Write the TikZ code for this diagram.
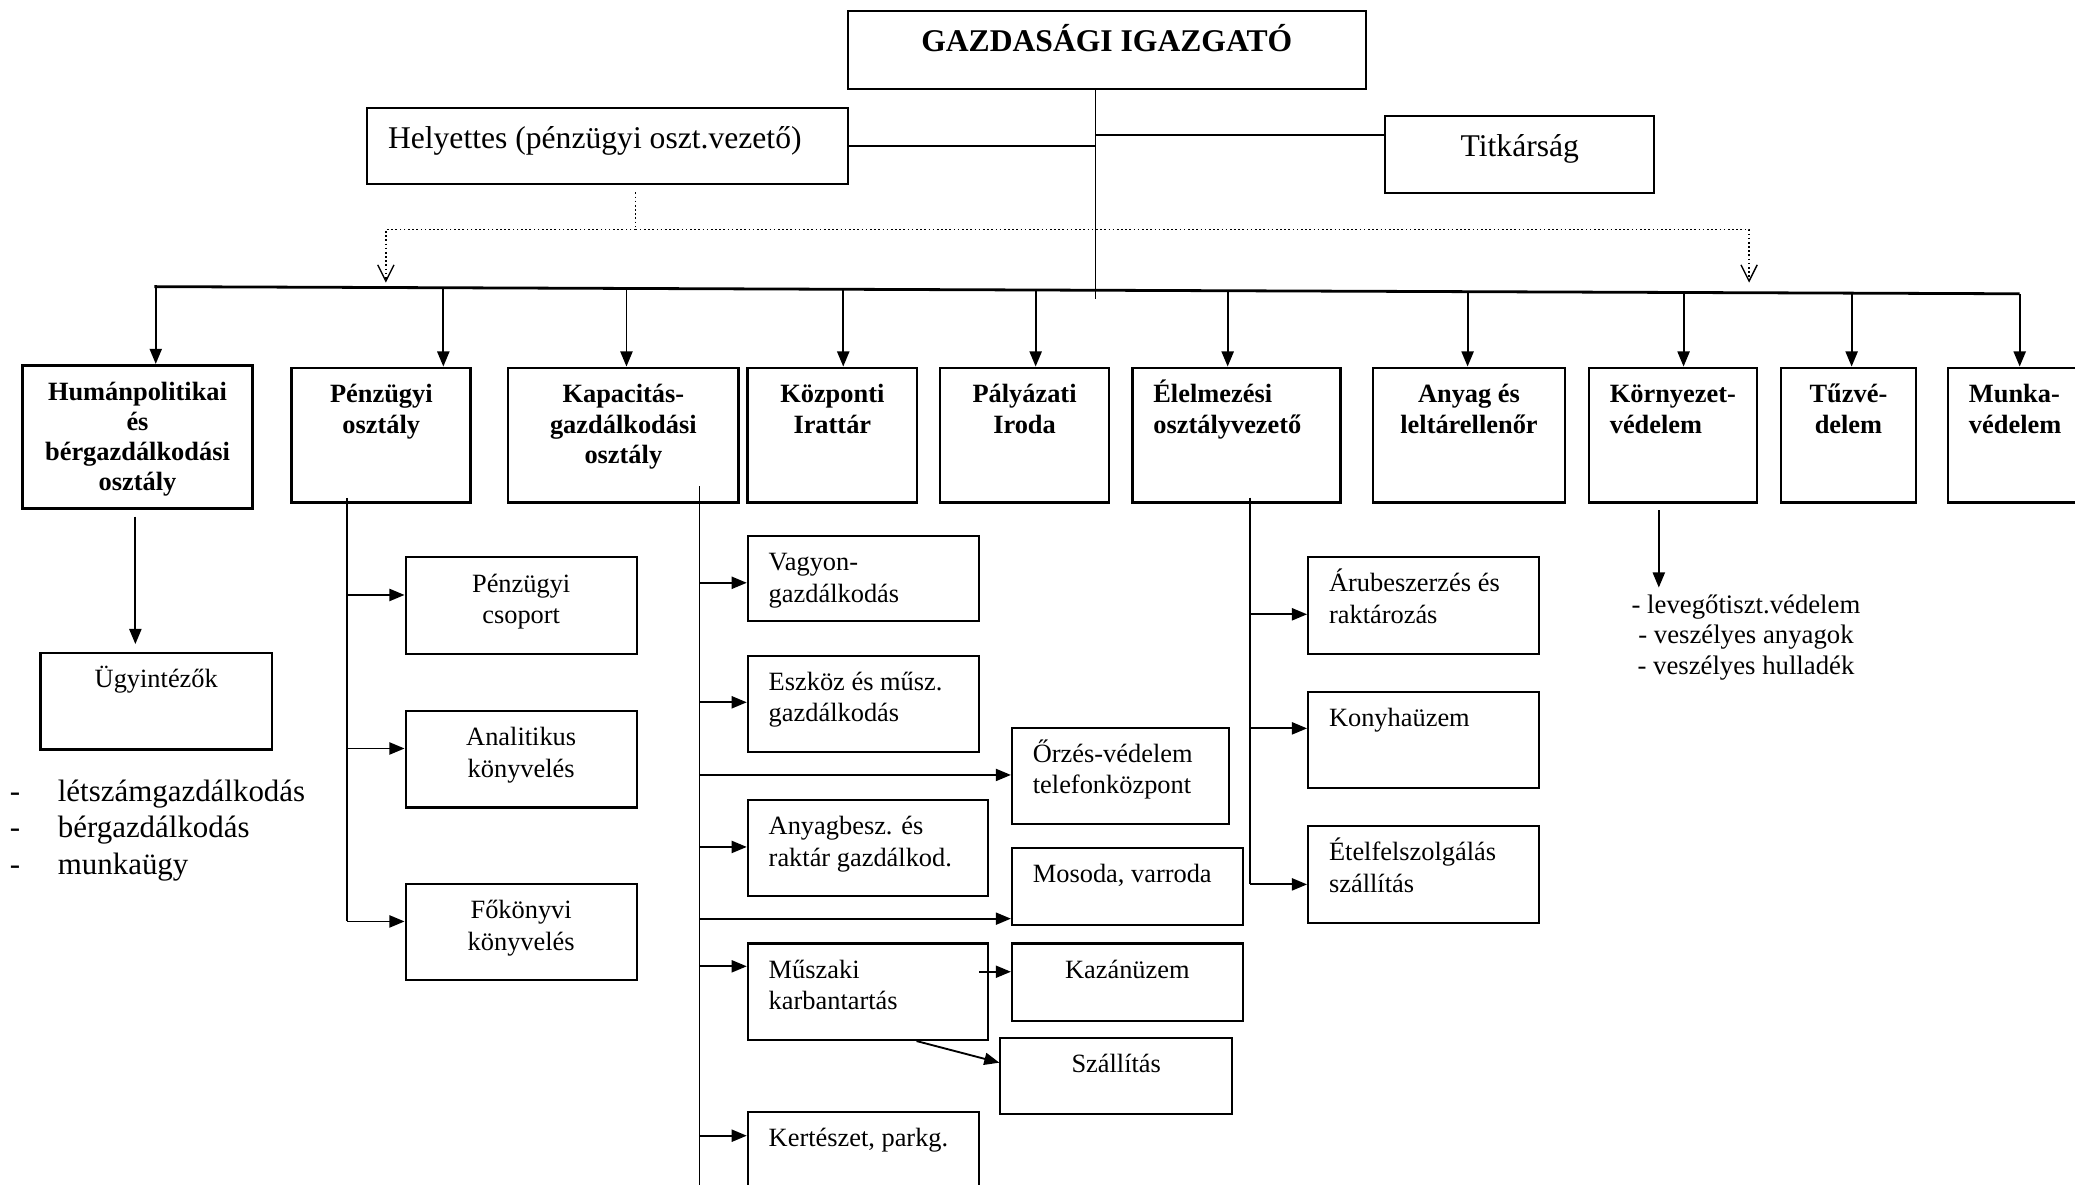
\documentclass[tikz,border=0pt]{standalone}
\usepackage{fontspec}
\setmainfont{Liberation Serif}
\usetikzlibrary{arrows.meta,calc,positioning}
\newlength\pxu \setlength\pxu{0.02cm}
\newlength\topbl \setlength\topbl{15pt}
\newcommand{\lalign}{\raggedright\leftskip=9pt\relax}
\newcommand{\boxtxt}[4][\centering]{\parbox[c][#3\pxu][t]{#2\pxu}{#1\rule{0pt}{\topbl}#4}}
\tikzset{
    head/.style = {draw, line width=.9pt, anchor=north west, inner sep=0pt,
        font=\fontsize{13.6}{16}\selectfont\setlength\topbl{17.5pt}},
    dept/.style = {draw, line width=1.2pt, anchor=north west, inner sep=0pt,
        font=\bfseries\fontsize{11.35}{13}\selectfont},
    sub/.style = {draw, line width=.9pt, anchor=north west, inner sep=0pt,
        font=\fontsize{11.35}{13.5}\selectfont},
    note/.style = {anchor=north west, inner sep=0pt},
    conn/.style = {line width=.8pt},
    bus/.style = {line width=1.2pt},
    arr/.style = {conn, -{Triangle[length=6.5pt,width=5.2pt]}},
    dots/.style = {line width=.6pt, dash pattern=on .7pt off 1.1pt},
    dotarr/.style = {-{Straight Barb[length=7pt,width=7pt]}}
}
\begin{document}
\begin{tikzpicture}[x=0.02cm, y=-0.02cm]
    \useasboundingbox (0,0) rectangle (1568,895);

    \node[head] (gazd) at (639.8,7.6) {\boxtxt{391.5}{58.7}{\textbf{GAZDASÁGI IGAZGATÓ}}};
    \node[head] (hely) at (276.6,80.6) {\boxtxt[\lalign]{363.2}{57.9}{Helyettes (pénzügyi oszt.vezető)}};
    \node[head] (titk) at (1045.9,86.9) {\boxtxt{203.5}{58}{Titkárság}};

    \node[dept] (hum) at (15.9,275) {\boxtxt{173.9}{108.4}{Humánpolitikai\\és\\bérgazdálkodási\\osztály}};
    \node[dept] (pen) at (219.5,277) {\boxtxt{135.2}{101.6}{Pénzügyi\\osztály}};
    \node[dept] (kap) at (382.8,277) {\boxtxt{174.4}{101.6}{Kapacitás-\\gazdálkodási\\osztály}};
    \node[dept] (kozp) at (564,277) {\boxtxt{127.8}{101.6}{Központi\\Irattár}};
    \node[dept] (paly) at (709.3,277) {\boxtxt{127.7}{101.6}{Pályázati\\Iroda}};
    \node[dept] (elel) at (854.7,277) {\boxtxt[\lalign]{157.2}{101.6}{Élelmezési\\osztályvezető}};
    \node[dept] (anyag) at (1036.5,277) {\boxtxt{145}{101.6}{Anyag és\\leltárellenőr}};
    \node[dept] (korny) at (1199.6,277) {\boxtxt[\lalign]{127}{101.6}{Környezet-\\védelem}};
    \node[dept] (tuz) at (1344.7,277) {\boxtxt{102.1}{101.6}{Tűzvé-\\delem}};
    \node[dept] (munka) at (1471,277) {\boxtxt[\lalign]{110}{101.6}{Munka-\\védelem}};

    \node[sub] (ugy) at (29.8,492.7) {\boxtxt{175}{72.9}{Ügyintézők}};
    \node[note, font=\fontsize{13.3}{15.6}\selectfont] (lista) at (7.2,579.1)
        {\boxtxt[\raggedright]{260}{90}{\makebox[20.6pt][l]{-}létszámgazdálkodás\\\makebox[20.6pt][l]{-}bérgazdálkodás\\\makebox[20.6pt][l]{-}munkaügy}};

    \node[sub] (csop) at (305.7,420.4) {\boxtxt{174.7}{73}{Pénzügyi\\csoport}};
    \node[sub] (anal) at (305.7,536.5) {\boxtxt{174.7}{72.9}{Analitikus\\könyvelés}};
    \node[sub] (fok) at (305.7,667.1) {\boxtxt{174.7}{72.9}{Főkönyvi\\könyvelés}};

    \node[sub] (vagy) at (564.3,404.1) {\boxtxt[\lalign]{174.8}{64.1}{Vagyon-\\gazdálkodás}};
    \node[sub] (eszk) at (564.3,494.7) {\boxtxt[\lalign]{174.8}{72.7}{Eszköz és műsz.\\gazdálkodás}};
    \node[sub] (orzes) at (763.9,549) {\boxtxt[\lalign]{163.7}{72.6}{Őrzés-védelem\\telefonközpont}};
    \node[sub] (anyb) at (564.3,603.6) {\boxtxt[\lalign]{181.7}{72.6}{Anyagbesz. és\\raktár gazdálkod.}};
    \node[sub] (mos) at (763.9,640) {\boxtxt[\lalign]{174.4}{58}{Mosoda, varroda}};
    \node[sub] (musz) at (564.3,712.2) {\boxtxt[\lalign]{181.7}{72.9}{Műszaki\\karbantartás}};
    \node[sub] (kaz) at (763.9,712.2) {\boxtxt{174.4}{58.5}{Kazánüzem}};
    \node[sub] (szal) at (755.2,783.5) {\boxtxt{175}{57.6}{Szállítás}};
    \node[sub] (kert) at (564.3,839.5) {\boxtxt[\lalign]{174.8}{70}{Kertészet, parkg.}};

    \node[sub] (arub) at (987.7,420.2) {\boxtxt[\lalign]{174.6}{73}{Árubeszerzés és\\raktározás}};
    \node[sub] (kony) at (987.7,522) {\boxtxt[\lalign]{174.6}{72.5}{Konyhaüzem}};
    \node[sub] (etel) at (987.7,623.4) {\boxtxt[\lalign]{174.6}{73.1}{Ételfelszolgálás\\szállítás}};

    \node[note, font=\fontsize{11.5}{13.2}\selectfont\setlength\topbl{10.8pt}] (veszl) at (1219,444)
        {\boxtxt{200}{75}{- levegőtiszt.védelem\\- veszélyes anyagok\\- veszélyes hulladék}};

    \coordinate (tr) at (828,226);
    \coordinate (tk) at ($(titk.north west)!.25!(titk.south west)$);
    \draw[line width=.6pt] (gazd.south -| tr) -- (tr);
    \draw[conn] (hely.east) -- (hely.east -| tr);
    \draw[conn] (tk) -- (tk -| tr);

    \coordinate (dv) at (480.3,173.5);
    \coordinate (dl) at (291.6,213.6);
    \coordinate (dr) at (1321.7,213.6);
    \draw[dots, shorten <=3pt] (hely.south -| dv) -- (dv);
    \draw[dots, dotarr] (dv) -| (dl);
    \draw[dots, dotarr] (dv) -| (dr);

    \coordinate (busl) at (116.6,216.6);
    \coordinate (busr) at (1526.2,222);
    \draw[bus] (busl) -- (busr);
    \foreach \n/\x/\y in {hum/117.7/216.6, pen/335/217.4, kap/473.4/218, kozp/637.2/218.6,
        paly/782.6/219.2, elel/927.7/219.7, anyag/1109/220.4, korny/1272.2/221,
        tuz/1399.2/221.5, munka/1526.2/222}
    {
        \coordinate (a) at (\x,\y);
        \draw[arr] (a) -- (a |- \n.north);
    }

    \coordinate (hv) at (102.3,390.4);
    \draw[arr, shorten >=3.4pt] (hv) -- (hv |- ugy.north);

    \coordinate (pt) at (262.2,376.3);
    \coordinate (pb) at (262.2,696.3);
    \draw[conn] (pt) -- (pb);
    \foreach \n/\y in {csop/449.6, anal/565.6, fok/696.3}
    {
        \coordinate (b) at (262.2,\y);
        \draw[arr] (b) -- (b -| \n.west);
    }

    \coordinate (kt) at (528.6,367.3);
    \coordinate (kb) at (528.6,905);
    \draw[conn] (kt) -- (kb);
    \foreach \n/\y in {vagy/440.4, eszk/530.7, orzes/585.6, anyb/640, mos/694.2, musz/730.2, kert/858.2}
    {
        \coordinate (b) at (528.6,\y);
        \draw[arr] (b) -- (b -| \n.west);
    }

    \coordinate (mk) at (739.9,734.3);
    \draw[arr] (mk) -- (mk -| kaz.west);
    \coordinate (ms) at ($(musz.south west)!.7!(musz.south east)$);
    \draw[arr] (ms) -- ($(szal.north west)!.33!(szal.south west)$);

    \coordinate (et) at (944.8,376);
    \coordinate (eb) at (944.8,668.3);
    \draw[conn] (et) -- (eb);
    \foreach \n/\y in {arub/464.2, kony/550.4, etel/668.3}
    {
        \coordinate (b) at (944.8,\y);
        \draw[arr] (b) -- (b -| \n.west);
    }

    \coordinate (kv) at (1253.5,385.4);
    \draw[arr] (kv) -- (kv |- veszl.north);
\end{tikzpicture}
\end{document}
